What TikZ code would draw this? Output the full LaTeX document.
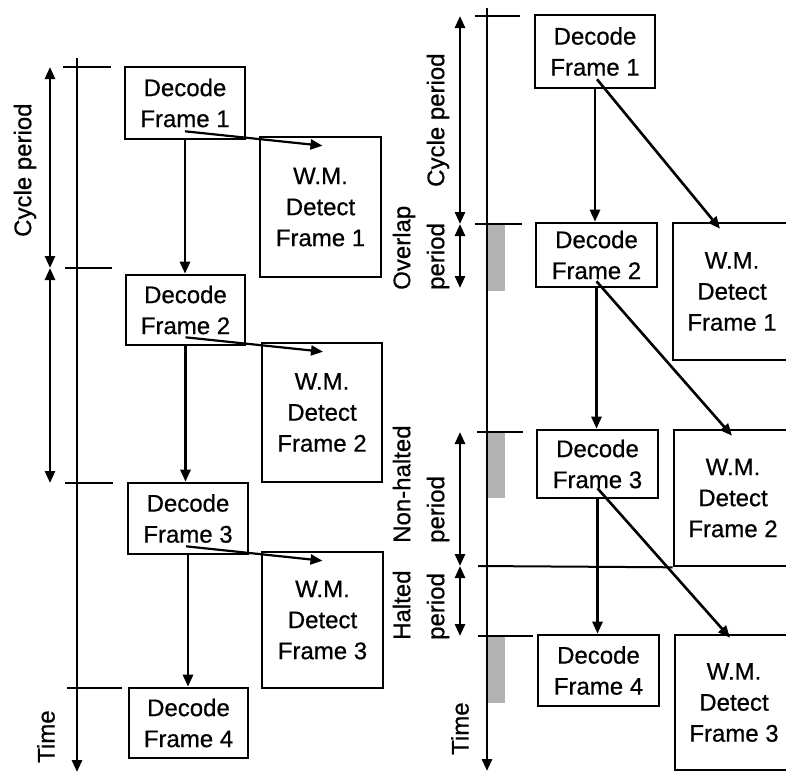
\documentclass[tikz,border=0pt]{standalone}
\usepackage{fontspec}
\setmainfont{Liberation Sans}[FakeBold=0.6]
\usetikzlibrary{arrows.meta,calc}
\begin{document}
\begin{tikzpicture}[x=1pt,y=-1pt,
 txt/.style={font=\fontsize{24pt}{31pt}\selectfont, align=center},
 dbox/.style={draw, line width=2.6pt, txt, inner sep=0pt},
 ln/.style={line width=2.6pt},
 tip/.style={-{Triangle[length=12pt,width=10pt]}},
 dtip/.style={{Triangle[length=12pt,width=10pt]}-{Triangle[length=12pt,width=10pt]}},
 lab/.style={font=\fontsize{24pt}{34pt}\selectfont, align=left, rotate=90, anchor=west, inner sep=0pt},
 shadebar/.style={fill=gray!60, draw=none}]
\path[use as bounding box] (0,0) rectangle (786,772);
\clip (0,0) rectangle (786,772);

% ---------- left panel ----------
\node[dbox, minimum width=120pt, minimum height=72pt] (dl1) at (185,103) {Decode\\Frame 1};
\node[dbox, minimum width=121pt, minimum height=140pt] (wl1) at (320.5,207) {W.M.\\Detect\\Frame 1};
\node[dbox, minimum width=119pt, minimum height=70pt] (dl2) at (185.5,310) {Decode\\Frame 2};
\node[dbox, minimum width=120pt, minimum height=139pt] (wl2) at (322,412.5) {W.M.\\Detect\\Frame 2};
\node[dbox, minimum width=120pt, minimum height=71pt] (dl3) at (188,518.5) {Decode\\Frame 3};
\node[dbox, minimum width=121pt, minimum height=136pt] (wl3) at (322.5,620) {W.M.\\Detect\\Frame 3};
\node[dbox, minimum width=119pt, minimum height=70pt] (dl4) at (188.5,723) {Decode\\Frame 4};

\draw[line width=2.8pt, tip] (77,58) -- (77,772);
\draw[ln] (63,67) -- (111,67);
\draw[ln] (65,268) -- (112,268);
\draw[ln] (65,483) -- (113,483);
\draw[ln] (67,688) -- (122,688);
\draw[ln, dtip] (50,67) -- (50,268);
\draw[ln, dtip] (50,268) -- (50,483);

\draw[ln, tip] (dl1.south) -- (dl1.south |- dl2.north);
\draw[ln, tip] (dl2.south) -- (dl2.south |- dl3.north);
\draw[ln, tip] (dl3.south) -- (dl3.south |- dl4.north);
\draw[line width=2.2pt, tip] ($(dl1.south)+(0,-9)$) -- ($(wl1.north)+(2,10)$);
\draw[line width=2.2pt, tip] ($(dl2.south)+(0,-9)$) -- ($(wl2.north)+(1,10)$);
\draw[line width=2.2pt, tip] ($(dl3.south)+(-2,-9)$) -- ($(wl3.north)+(0,10)$);

\node[lab] (lcp) at (25,237) {Cycle period};
\node[lab] (ltime) at (46,763) {Time};

% ---------- right panel ----------
\fill[shadebar] (488,225) rectangle (505,291);
\fill[shadebar] (488,433) rectangle (505,498);
\fill[shadebar] (488,637) rectangle (505,703);

\node[dbox, minimum width=120pt, minimum height=73pt] (dr1) at (595,51.5) {Decode\\Frame 1};
\node[dbox, minimum width=121pt, minimum height=64pt] (dr2) at (596.5,255) {Decode\\Frame 2};
\node[dbox, minimum width=121pt, minimum height=68pt] (dr3) at (597.5,464) {Decode\\Frame 3};
\node[dbox, minimum width=121pt, minimum height=71pt] (dr4) at (598.5,670.5) {Decode\\Frame 4};
\node[dbox, minimum width=118pt, minimum height=137pt] (wr1) at (732,291.5) {W.M.\\Detect\\Frame 1};
\node[dbox, minimum width=118pt, minimum height=136pt] (wr2) at (733,498) {W.M.\\Detect\\Frame 2};
\node[dbox, minimum width=118pt, minimum height=135pt] (wr3) at (734,702.5) {W.M.\\Detect\\Frame 3};

\draw[line width=2.8pt, tip] (487,8) -- (487,771);
\draw[ln] (475,16) -- (520,16);
\draw[ln] (475,224) -- (522,224);
\draw[ln] (477,432) -- (523,432);
\draw[line width=2pt] (478,566) -- (wr2.south west);
\draw[ln] (478,636) -- (533,636);
\draw[ln, dtip] (460,16) -- (460,224);
\draw[ln, dtip] (460,224) -- (460,288);
\draw[ln, dtip] (460,432) -- (460,566);
\draw[ln, dtip] (460,566) -- (460,636);

\draw[ln, tip] (dr1.south) -- (dr1.south |- dr2.north);
\draw[ln, tip] (dr2.south) -- (dr2.south |- dr3.north);
\draw[ln, tip] (dr3.south) -- (dr3.south |- dr4.north);
\draw[ln, tip] ($(dr1.south)+(2,-10)$) -- ($(wr1.north)+(-12,7)$);
\draw[ln, tip] ($(dr2.south)+(0,-7)$) -- ($(wr2.north)+(-1,7)$);
\draw[ln, tip] ($(dr3.south)+(0,-11)$) -- ($(wr3.north)+(-4,4)$);

\node[lab] (rcp) at (438,187) {Cycle period};
\node[lab] (rov) at (421,290) {Overlap\\period};
\node[lab] (rnh) at (421,543) {Non-halted\\period};
\node[lab] (rh) at (421,640) {Halted\\period};
\node[lab] (rtime) at (460,755) {Time};
\end{tikzpicture}
\end{document}
